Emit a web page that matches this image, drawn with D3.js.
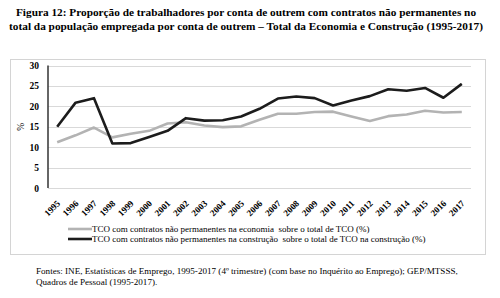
<!DOCTYPE html>
<html>
<head>
<meta charset="utf-8">
<script src="https://cdn.jsdelivr.net/npm/d3@7"></script>
<style>
  body { margin: 0; background: #fff; }
  text { font-family: "Liberation Serif", "Times New Roman", serif; }
</style>
</head>
<body>
<div id="chart"></div>
<script>
const years = ["1995","1996","1997","1998","1999","2000","2001","2002","2003","2004","2005","2006",
               "2007","2008","2009","2010","2011","2012","2013","2014","2015","2016","2017"]
const economia = [11.2, 12.9, 14.8, 12.4, 13.3, 14.0, 15.8, 16.1, 15.3, 14.9, 15.1, 16.7,
                  18.2, 18.2, 18.6, 18.7, 17.5, 16.4, 17.6, 18.0, 18.9, 18.5, 18.6]
const construcao = [15.0, 20.9, 22.0, 10.9, 11.0, 12.5, 14.0, 17.1, 16.5, 16.6, 17.5, 19.4,
                    21.9, 22.4, 22.0, 20.2, 21.4, 22.5, 24.2, 23.8, 24.5, 22.1, 25.5]
const yTicks = [0, 5, 10, 15, 20, 25, 30]
const legendLabels = [
  "TCO com contratos não permanentes na economia  sobre o total de TCO (%)",
  "TCO com contratos não permanentes na construção  sobre o total de TCO na construção (%)"
]
const titleLines = [
  "Figura 12: Proporção de trabalhadores por conta de outrem com contratos não permanentes no",
  "total da população empregada por conta de outrem – Total da Economia e Construção (1995-2017)"
]
const sourceLines = [
  "Fontes: INE, Estatísticas de Emprego, 1995-2017 (4º trimestre) (com base no Inquérito ao Emprego); GEP/MTSSS,",
  "Quadros de Pessoal (1995-2017)."
]
const colors = ["#b3b3b3", "#1c1c1c"]

const W = 500, H = 298
const PLOT = { LEFT: 48, RIGHT: 471, TOP: 65.5, BOTTOM: 188 }

const svg = d3.select("#chart").append("svg")
  .attr("width", W).attr("height", H)

// title
svg.append("g").selectAll("text")
  .data(titleLines).join("text")
  .attr("x", 246).attr("y", (d, i) => 15.5 + i * 14)
  .attr("text-anchor", "middle")
  .attr("font-size", 11.3).attr("font-weight", "bold")
  .text(d => d)

// outer chart box
svg.append("rect")
  .attr("x", 10.5).attr("y", 59.5).attr("width", 475).attr("height", 195)
  .attr("fill", "none").attr("stroke", "#d4d4d4")

const x = d3.scalePoint().domain(years).range([PLOT.LEFT, PLOT.RIGHT]).padding(0.5)
const y = d3.scaleLinear().domain([0, 30]).range([PLOT.BOTTOM, PLOT.TOP])

// gridlines
svg.append("g").selectAll("line")
  .data(yTicks).join("line")
  .attr("x1", PLOT.LEFT).attr("x2", PLOT.RIGHT)
  .attr("y1", d => Math.round(y(d)) + 0.5).attr("y2", d => Math.round(y(d)) + 0.5)
  .attr("stroke", "#d9d9d9")

// y axis
const yAxis = svg.append("g")
  .attr("transform", `translate(${PLOT.LEFT},0)`)
  .call(d3.axisLeft(y).tickValues(yTicks).tickSize(0).tickPadding(9))
yAxis.select(".domain").attr("stroke", "#333").attr("stroke-width", 1.5)
  .attr("d", `M0,${PLOT.TOP}V${PLOT.BOTTOM}`)
yAxis.selectAll("text")
  .attr("font-family", "Liberation Serif").attr("font-size", 9.5)
  .attr("font-weight", "bold").attr("fill", "#000")

svg.append("text")
  .attr("transform", `translate(24,${(PLOT.TOP + PLOT.BOTTOM) / 2}) rotate(-90)`)
  .attr("text-anchor", "middle").attr("font-size", 9.5)
  .text("%")

// x axis labels
const xAxis = svg.append("g")
  .attr("transform", `translate(0,${PLOT.BOTTOM})`)
  .call(d3.axisBottom(x).tickSize(0).tickPadding(0))
xAxis.select(".domain").remove()
xAxis.selectAll("text")
  .attr("font-family", "Liberation Serif").attr("font-size", 9)
  .attr("font-weight", "bold").attr("fill", "#000")
  .attr("text-anchor", "end")
  .attr("dy", "0")
  .attr("transform", "translate(3,16) rotate(-45)")

// lines
const line = d3.line()
  .x((d, i) => x(years[i]))
  .y(d => y(d))

const series = [economia, construcao]
series.forEach((values, i) => {
  svg.append("path")
    .datum(values)
    .attr("fill", "none")
    .attr("stroke", colors[i])
    .attr("stroke-width", 2.6)
    .attr("stroke-linejoin", "round")
    .attr("d", line)
})

// legend
const legend = svg.append("g")
legendLabels.forEach((label, i) => {
  const ly = 229 + i * 10
  legend.append("line")
    .attr("x1", 68).attr("x2", 92).attr("y1", ly).attr("y2", ly)
    .attr("stroke", colors[i]).attr("stroke-width", 2.6)
  legend.append("text")
    .attr("x", 92).attr("y", ly + 3)
    .attr("font-size", 9)
    .style("white-space", "pre")
    .text(label)
})

// source
svg.append("g").selectAll("text")
  .data(sourceLines).join("text")
  .attr("x", 36).attr("y", (d, i) => 274 + i * 11)
  .attr("font-size", 9.1)
  .text(d => d)
</script>
</body>
</html>
